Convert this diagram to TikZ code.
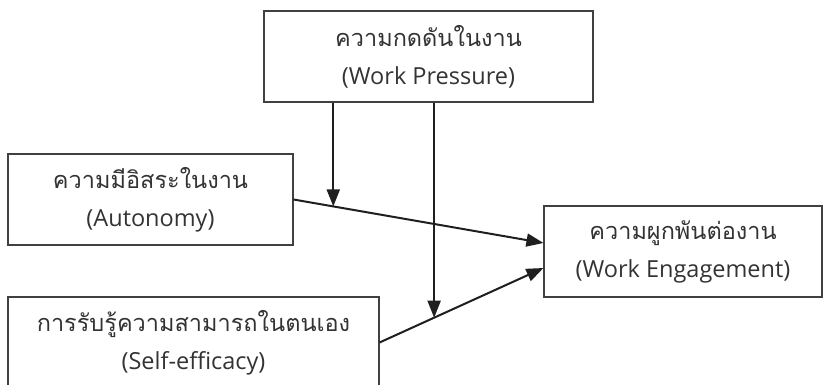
\documentclass[tikz,border=0pt]{standalone}
\usepackage{fontspec}
\setmainfont{Open Sans}
\newfontfamily\thaifont[Script=Thai]{Loma}
\usetikzlibrary{arrows.meta,calc}
\definecolor{txt}{HTML}{333333}
\definecolor{edge}{HTML}{404040}
\newcommand{\thtext}[1]{{\thaifont\fontsize{23.5}{38}\selectfont #1}}
\tikzset{
  box/.style={draw=edge, line width=1.1pt, rectangle, inner sep=0pt, align=center,
    text=txt, font=\fontsize{23.5}{38}\selectfont},
  link/.style={draw=black!88, line width=2pt,
    -{Triangle[length=17pt,width=13pt]}},
}
\begin{document}
\begin{tikzpicture}[x=1pt,y=-1pt]
\useasboundingbox (0,0) rectangle (823,385);
\clip (0,0) rectangle (823,385);
\node[box, minimum width=329pt, minimum height=91pt] (T) at (428.5,56.5)
  {\thtext{ความกดดันในงาน}\\(Work Pressure)};
\node[box, minimum width=285pt, minimum height=91pt] (A) at (150.5,199.5)
  {\thtext{ความมีอิสระในงาน}\\(Autonomy)};
\node[box, minimum width=278pt, minimum height=91pt] (W) at (683,251.5)
  {\thtext{ความผูกพันต่องาน}\\(Work Engagement)};
\node[box, minimum width=371pt, minimum height=91pt] (S) at (193.5,342.5)
  {\thtext{การรับรู้ความสามารถในตนเอง}\\(Self-efficacy)};
\coordinate (Wa) at ([yshift=8.5pt]W.west);
\coordinate (Ws) at ([yshift=-16.5pt]W.west);
\draw[link] (A.east) -- (Wa);
\draw[link] (S.east) -- (Ws);
\coordinate (m1) at ($(A.east)!0.159!(Wa)$);
\coordinate (m2) at ($(S.east)!0.333!(Ws)$);
\draw[link] (m1 |- T.south) -- (m1);
\draw[link] (m2 |- T.south) -- (m2);
\end{tikzpicture}
\end{document}
